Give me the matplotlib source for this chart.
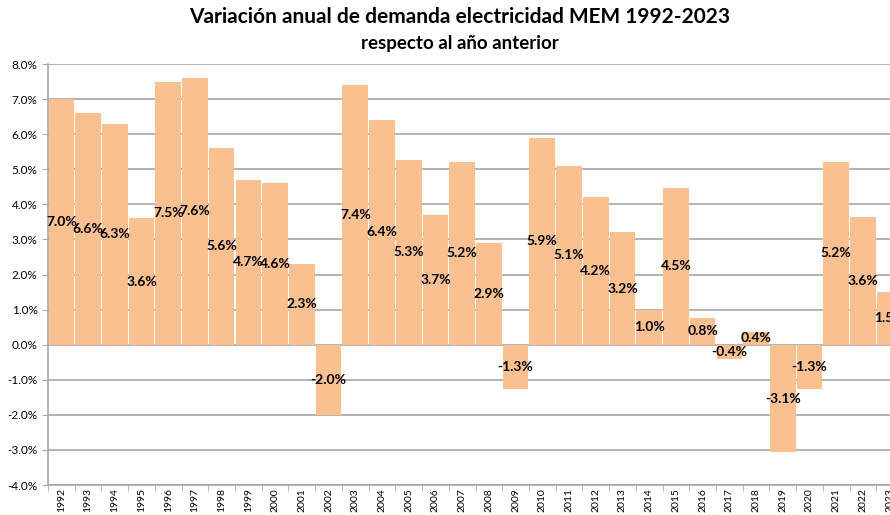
import numpy as np
import matplotlib
matplotlib.use("Agg")
import matplotlib.pyplot as plt
from matplotlib.ticker import FuncFormatter

years = [str(y) for y in range(1992, 2024)]
valores = [7.0, 6.6, 6.3, 3.6, 7.5, 7.6, 5.6, 4.7, 4.6, 2.3,
           -2.0, 7.4, 6.4, 5.27, 3.7, 5.2, 2.9, -1.27, 5.9, 5.1,
           4.2, 3.2, 1.0, 4.47, 0.77, -0.4, 0.37, -3.07, -1.27, 5.2,
           3.64, 1.5]

plt.rcParams['font.family'] = ['Lato', 'DejaVu Sans']

fig = plt.figure(figsize=(8.9, 5.15), dpi=100)
# eje se sale un poco por la derecha, como en el original
ax = fig.add_axes([48 / 890, 30 / 515, 855 / 890, 421 / 515])

x = np.arange(len(years))
ax.bar(x, valores, width=0.96, color='#FAC090', zorder=3)

for xi, v in zip(x, valores):
    ax.text(xi, v / 2, f"{v:.1f}%", ha='center', va='center',
            fontsize=10, fontweight='bold', color='black', zorder=4)

ax.set_xlim(-0.5, len(years) - 0.5)
ax.set_ylim(-4, 8)
ax.set_yticks(np.arange(-4, 9, 1))
ax.yaxis.set_major_formatter(FuncFormatter(lambda v, p: f"{v:.1f}%"))
ax.grid(axis='y', color='#B3B3B3', linewidth=1.4, zorder=0)

ax.set_xticks(x)
ax.set_xticklabels(years, rotation=90, fontsize=7.5)
ax.set_xticks(np.arange(-0.5, len(years), 1), minor=True)
ax.tick_params(axis='x', which='major', length=0, pad=2.5)
ax.tick_params(axis='x', which='minor', length=4, color='#A6A6A6')
ax.tick_params(axis='y', length=4, color='#A6A6A6', labelsize=8.5)

for s in ['top', 'right']:
    ax.spines[s].set_visible(False)
for s in ['left', 'bottom']:
    ax.spines[s].set_color('#A6A6A6')
    ax.spines[s].set_linewidth(1.2)

fig.text(460 / 890, 1 - 17 / 515, "Variación anual de demanda electricidad MEM 1992-2023",
         ha='center', va='center', fontsize=15, fontweight='bold')
fig.text(460 / 890, 1 - 43 / 515, "respecto al año anterior",
         ha='center', va='center', fontsize=13.5, fontweight='bold')

fig.savefig("out.png", dpi=100)
